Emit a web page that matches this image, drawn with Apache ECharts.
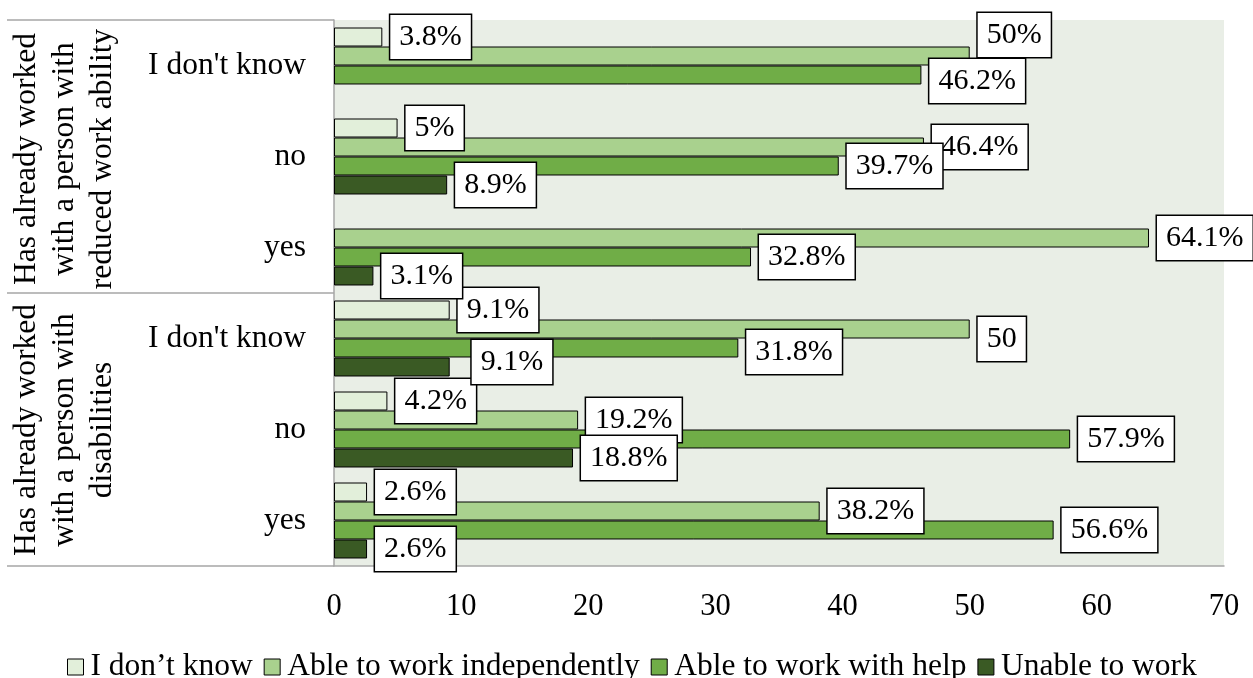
<!DOCTYPE html>
<html>
<head>
<meta charset="utf-8">
<script src="https://cdn.jsdelivr.net/npm/echarts@6/dist/echarts.min.js"></script>
<style>
html,body{margin:0;padding:0;background:#fff;}
#chart{width:1253px;height:678px;}
</style>
</head>
<body>
<div id="chart"></div>
<script>
// Categories, top to bottom
const categories = ["I don't know", "no", "yes", "I don't know", "no", "yes"];
const groupLabels = [
  "Has already worked\nwith a person with\nreduced work ability",
  "Has already worked\nwith a person with\ndisabilities"
];
const seriesNames = ["I don\u2019t know", "Able to work independently", "Able to work with help", "Unable to work"];
// Values (percent), same order as categories; null = no bar
const dontKnow      = [3.8, 5,    null, 9.1, 4.2, 2.6];
const independently = [50,  46.4, 64.1, 50,  19.2, 38.2];
const withHelp      = [46.2, 39.7, 32.8, 31.8, 57.9, 56.6];
const unable        = [null, 8.9, 3.1, 9.1, 18.8, 2.6];
const xTicks = [0, 10, 20, 30, 40, 50, 60, 70];

const FONT = '"Liberation Serif", "Times New Roman", serif';
const colors = ['#E2EFDA', '#A9D18E', '#70AD47', '#3A5A24'];
const seriesValues = [dontKnow, independently, withHelp, unable];

// label adjustments (series index -> category index -> settings)
const labelTweaks = {
  1: {0: {offset: [0, -21]}, 3: {offset: [0, 10], noPercent: true}},
  2: {0: {offset: [0, 6]}, 3: {offset: [0, 4]}},
  3: {3: {offset: [14, -5]}}
};

const chart = echarts.init(document.getElementById('chart'));

const series = seriesValues.map((vals, si) => ({
  name: seriesNames[si],
  type: 'bar',
  barGap: '0%',
  barCategoryGap: '16.5%',
  itemStyle: {color: colors[si], borderColor: '#000', borderWidth: 1},
  label: {
    show: true,
    position: 'right',
    distance: 8,
    fontFamily: FONT,
    fontSize: 30,
    color: '#000',
    backgroundColor: '#fff',
    borderColor: '#000',
    borderWidth: 1.5,
    padding: [4, 9, 3, 9],
    lineHeight: 37,
    formatter: function (p) {
      const t = labelTweaks[si] && labelTweaks[si][p.dataIndex];
      return p.value + (t && t.noPercent ? '' : '%');
    }
  },
  data: vals.map((v, ci) => {
    if (v === null) return '-';
    const t = labelTweaks[si] && labelTweaks[si][ci];
    if (t && t.offset) return {value: v, label: {offset: t.offset}};
    return v;
  })
}));

const gridLeft = 334, gridTop = 20, gridBottomY = 566, gridRightX = 1224;
const graphic = [
  {type: 'line', shape: {x1: 7, y1: gridTop, x2: gridLeft, y2: gridTop}, style: {stroke: '#A6A6A6', lineWidth: 1.5}},
  {type: 'line', shape: {x1: 7, y1: (gridTop + gridBottomY) / 2, x2: gridLeft, y2: (gridTop + gridBottomY) / 2}, style: {stroke: '#A6A6A6', lineWidth: 1.5}},
  {type: 'line', shape: {x1: 7, y1: gridBottomY, x2: gridLeft, y2: gridBottomY}, style: {stroke: '#A6A6A6', lineWidth: 1.5}},
  {type: 'text', x: 65, y: 159, rotation: Math.PI / 2,
   style: {text: groupLabels[0], x: 0, y: 0, align: 'center', verticalAlign: 'middle', font: '31.5px ' + FONT, lineHeight: 38, fill: '#000'}},
  {type: 'text', x: 65, y: 430, rotation: Math.PI / 2,
   style: {text: groupLabels[1], x: 0, y: 0, align: 'center', verticalAlign: 'middle', font: '31.5px ' + FONT, lineHeight: 38, fill: '#000'}}
];

chart.setOption({
  backgroundColor: '#fff',
  animation: false,
  textStyle: {fontFamily: FONT},
  grid: {
    left: gridLeft, top: gridTop, right: 1253 - gridRightX, bottom: 678 - gridBottomY,
    show: true, backgroundColor: '#E9EEE6', borderWidth: 0
  },
  legend: {
    data: seriesNames,
    left: 62,
    top: 645,
    itemWidth: 16,
    itemHeight: 16,
    itemGap: 11,
    icon: 'rect',
    itemStyle: {borderColor: '#000', borderWidth: 1},
    textStyle: {fontFamily: FONT, fontSize: 31.5, lineHeight: 34, color: '#000', padding: [0, 0, 0, 2]}
  },
  xAxis: {
    type: 'value',
    min: xTicks[0],
    max: xTicks[xTicks.length - 1],
    interval: 10,
    splitLine: {show: false},
    axisTick: {show: false},
    axisLine: {show: true, lineStyle: {color: '#A6A6A6', width: 1.5}},
    axisLabel: {fontFamily: FONT, fontSize: 30.5, color: '#000', margin: 25}
  },
  yAxis: {
    type: 'category',
    inverse: true,
    data: categories,
    axisTick: {show: false},
    axisLine: {show: true, lineStyle: {color: '#A6A6A6', width: 1.5}},
    axisLabel: {fontFamily: FONT, fontSize: 31.5, color: '#000', margin: 28}
  },
  graphic: graphic,
  series: series
});
</script>
</body>
</html>
